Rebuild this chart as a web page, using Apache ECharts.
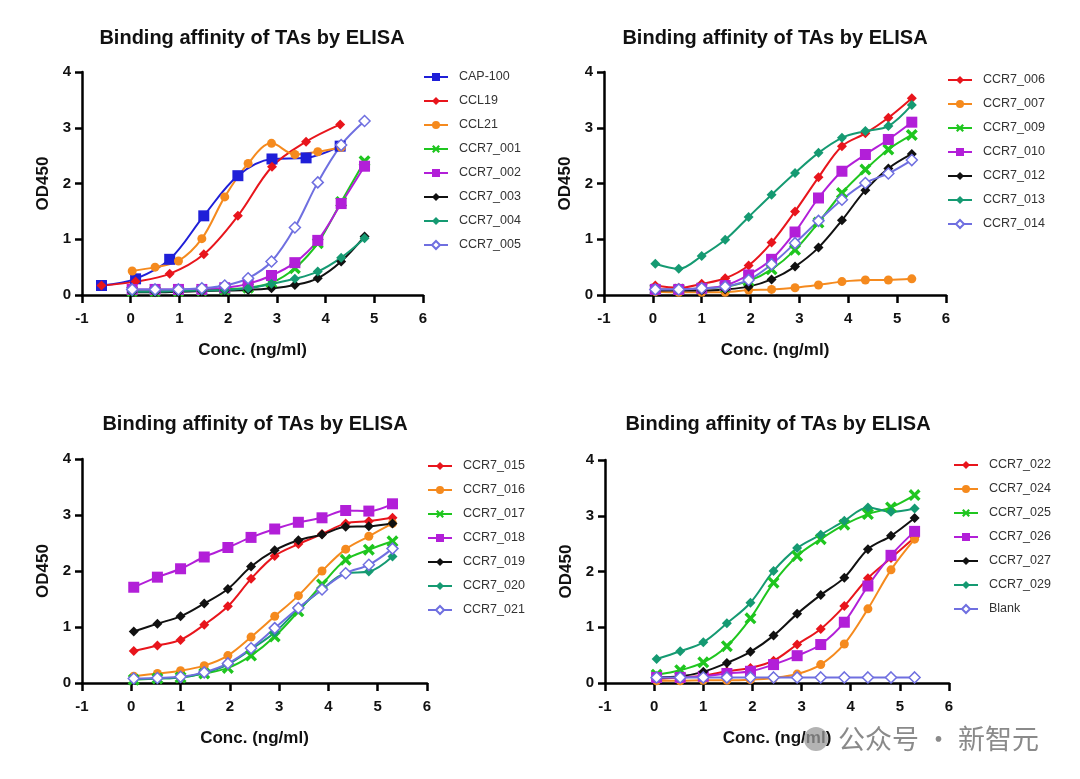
<!DOCTYPE html>
<html>
<head>
<meta charset="utf-8">
<script src="https://cdn.jsdelivr.net/npm/echarts@6/dist/echarts.min.js"></script>
<style>
  html, body { margin: 0; padding: 0; background: #fff; }
  #chart { width: 1080px; height: 779px; }
</style>
</head>
<body>
<div id="chart"></div>
<script>
// x values (log10 conc.)
var xA = [-0.6, 0.1, 0.8, 1.5, 2.2, 2.9, 3.6, 4.3]
var xB = [0.03, 0.5, 0.98, 1.46, 1.93, 2.41, 2.89, 3.37, 3.84, 4.32]
var xC = [0.03, 0.5, 0.98, 1.46, 1.93, 2.41, 2.89, 3.37, 3.84, 4.32, 4.8]
var xD = [0.05, 0.53, 1.0, 1.48, 1.96, 2.43, 2.91, 3.39, 3.87, 4.35, 4.82, 5.3]

// panel 1
var cap100 = [0.17, 0.29, 0.64, 1.42, 2.14, 2.44, 2.46, 2.67]
var ccl19 = [0.17, 0.24, 0.38, 0.73, 1.42, 2.30, 2.75, 3.06]
var ccl21 = [0.43, 0.5, 0.61, 1.01, 1.76, 2.36, 2.72, 2.52, 2.57, 2.65]
var ccr7_001 = [0.07, 0.07, 0.07, 0.08, 0.1, 0.13, 0.22, 0.48, 0.93, 1.67, 2.4]
var ccr7_002 = [0.1, 0.1, 0.1, 0.1, 0.13, 0.2, 0.35, 0.58, 0.98, 1.64, 2.31]
var ccr7_003 = [0.05, 0.05, 0.06, 0.07, 0.08, 0.09, 0.12, 0.18, 0.3, 0.6, 1.05]
var ccr7_004 = [0.06, 0.06, 0.07, 0.08, 0.09, 0.12, 0.2, 0.29, 0.42, 0.67, 1.02]
var ccr7_005 = [0.1, 0.1, 0.1, 0.12, 0.17, 0.3, 0.6, 1.21, 2.02, 2.69, 3.12]

// panel 2
var ccr7_006 = [0.17, 0.13, 0.2, 0.3, 0.53, 0.94, 1.5, 2.11, 2.67, 2.9, 3.18, 3.53]
var ccr7_007 = [0.06, 0.05, 0.05, 0.05, 0.09, 0.1, 0.13, 0.18, 0.24, 0.27, 0.27, 0.29]
var ccr7_009 = [0.1, 0.1, 0.12, 0.15, 0.25, 0.46, 0.81, 1.3, 1.83, 2.25, 2.61, 2.87]
var ccr7_010 = [0.1, 0.1, 0.12, 0.17, 0.36, 0.64, 1.13, 1.74, 2.22, 2.52, 2.79, 3.1]
var ccr7_012 = [0.08, 0.08, 0.08, 0.1, 0.15, 0.28, 0.51, 0.85, 1.34, 1.88, 2.27, 2.53]
var ccr7_013 = [0.56, 0.47, 0.7, 0.99, 1.4, 1.8, 2.19, 2.55, 2.82, 2.94, 3.03, 3.41]
var ccr7_014 = [0.1, 0.1, 0.12, 0.15, 0.27, 0.55, 0.93, 1.33, 1.71, 2.01, 2.18, 2.42]

// panel 3
var ccr7_015 = [0.57, 0.67, 0.77, 1.04, 1.37, 1.86, 2.27, 2.48, 2.66, 2.85, 2.89, 2.95]
var ccr7_016 = [0.12, 0.17, 0.22, 0.31, 0.49, 0.82, 1.19, 1.56, 2.0, 2.39, 2.62, 2.85]
var ccr7_017 = [0.06, 0.08, 0.1, 0.17, 0.27, 0.49, 0.83, 1.28, 1.76, 2.2, 2.38, 2.53]
var ccr7_018 = [1.71, 1.89, 2.04, 2.25, 2.42, 2.6, 2.75, 2.87, 2.95, 3.08, 3.07, 3.2]
var ccr7_019 = [0.92, 1.06, 1.19, 1.42, 1.68, 2.08, 2.37, 2.55, 2.65, 2.79, 2.8, 2.85]
var ccr7_020 = [0.07, 0.08, 0.1, 0.18, 0.33, 0.6, 0.9, 1.32, 1.67, 1.96, 1.99, 2.26]
var ccr7_021 = [0.08, 0.09, 0.11, 0.19, 0.35, 0.62, 0.98, 1.34, 1.67, 1.96, 2.11, 2.4]

// panel 4
var ccr7_022 = [0.07, 0.1, 0.13, 0.21, 0.27, 0.4, 0.69, 0.97, 1.38, 1.88, 2.24, 2.61]
var ccr7_024 = [0.04, 0.04, 0.05, 0.05, 0.06, 0.09, 0.16, 0.33, 0.7, 1.33, 2.03, 2.58]
var ccr7_025 = [0.15, 0.23, 0.37, 0.66, 1.16, 1.8, 2.28, 2.58, 2.84, 3.03, 3.15, 3.37]
var ccr7_026 = [0.1, 0.1, 0.12, 0.17, 0.21, 0.33, 0.49, 0.69, 1.09, 1.74, 2.29, 2.72]
var ccr7_027 = [0.1, 0.12, 0.2, 0.36, 0.56, 0.85, 1.24, 1.58, 1.89, 2.4, 2.64, 2.96]
var ccr7_029 = [0.43, 0.57, 0.73, 1.07, 1.44, 2.01, 2.42, 2.66, 2.91, 3.15, 3.07, 3.13]
var blank = [0.1, 0.1, 0.1, 0.1, 0.1, 0.1, 0.1, 0.1, 0.1, 0.1, 0.1, 0.1]

var xTicks = [-1, 0, 1, 2, 3, 4, 5, 6]
var yTicks = [0, 1, 2, 3, 4]

var C = {
  blue: '#1f1fd8',
  red: '#e8151c',
  orange: '#f58a1e',
  green: '#1fc61f',
  purple: '#b21fd8',
  black: '#111111',
  teal: '#159a72',
  lavender: '#6f6fe0'
}

var CROSS = 'path://M2,0 L5,3 L8,0 L10,2 L7,5 L10,8 L8,10 L5,7 L2,10 L0,8 L3,5 L0,2 Z'
var MARK = {
  square: { symbol: 'rect', size: 11 },
  diamond: { symbol: 'diamond', size: 10 },
  circle: { symbol: 'circle', size: 9 },
  cross: { symbol: CROSS, size: 12 },
  open: { symbol: 'diamond', size: 11, open: true }
}

var grids = [
  { left: 82, top: 72, width: 341, height: 223 },
  { left: 604, top: 72, width: 342, height: 223 },
  { left: 82, top: 459, width: 345, height: 224 },
  { left: 605, top: 460, width: 344, height: 223 }
]

var panels = [
  { title: [252, 38], legend: [418, 65], series: [
    ['CAP-100', xA, cap100, C.blue, 'square'],
    ['CCL19', xA, ccl19, C.red, 'diamond'],
    ['CCL21', xB, ccl21, C.orange, 'circle'],
    ['CCR7_001', xC, ccr7_001, C.green, 'cross'],
    ['CCR7_002', xC, ccr7_002, C.purple, 'square'],
    ['CCR7_003', xC, ccr7_003, C.black, 'diamond'],
    ['CCR7_004', xC, ccr7_004, C.teal, 'diamond'],
    ['CCR7_005', xC, ccr7_005, C.lavender, 'open']
  ] },
  { title: [775, 38], legend: [942, 68], series: [
    ['CCR7_006', xD, ccr7_006, C.red, 'diamond'],
    ['CCR7_007', xD, ccr7_007, C.orange, 'circle'],
    ['CCR7_009', xD, ccr7_009, C.green, 'cross'],
    ['CCR7_010', xD, ccr7_010, C.purple, 'square'],
    ['CCR7_012', xD, ccr7_012, C.black, 'diamond'],
    ['CCR7_013', xD, ccr7_013, C.teal, 'diamond'],
    ['CCR7_014', xD, ccr7_014, C.lavender, 'open']
  ] },
  { title: [255, 424], legend: [422, 454], series: [
    ['CCR7_015', xD, ccr7_015, C.red, 'diamond'],
    ['CCR7_016', xD, ccr7_016, C.orange, 'circle'],
    ['CCR7_017', xD, ccr7_017, C.green, 'cross'],
    ['CCR7_018', xD, ccr7_018, C.purple, 'square'],
    ['CCR7_019', xD, ccr7_019, C.black, 'diamond'],
    ['CCR7_020', xD, ccr7_020, C.teal, 'diamond'],
    ['CCR7_021', xD, ccr7_021, C.lavender, 'open']
  ] },
  { title: [778, 424], legend: [948, 453], series: [
    ['CCR7_022', xD, ccr7_022, C.red, 'diamond'],
    ['CCR7_024', xD, ccr7_024, C.orange, 'circle'],
    ['CCR7_025', xD, ccr7_025, C.green, 'cross'],
    ['CCR7_026', xD, ccr7_026, C.purple, 'square'],
    ['CCR7_027', xD, ccr7_027, C.black, 'diamond'],
    ['CCR7_029', xD, ccr7_029, C.teal, 'diamond'],
    ['Blank', xD, blank, C.lavender, 'open']
  ] }
]

var FONT = 'Liberation Sans, Arial'
var axisLabelStyle = { color: '#111', fontSize: 15, fontWeight: 'bold', fontFamily: FONT }
var axisNameStyle = { color: '#111', fontSize: 17, fontWeight: 'bold', fontFamily: FONT }

var xAxis = []
var yAxis = []
var legend = []
var series = []
var graphic = []

panels.forEach(function (p, i) {
  xAxis.push({
    type: 'value', gridIndex: i, min: xTicks[0], max: xTicks[xTicks.length - 1], interval: 1,
    name: 'Conc. (ng/ml)', nameLocation: 'middle', nameGap: 47,
    nameTextStyle: axisNameStyle,
    axisLine: { show: true, onZero: false, lineStyle: { color: '#000', width: 2.5 } },
    axisTick: { show: true, length: 8, lineStyle: { color: '#000', width: 2.5 } },
    axisLabel: Object.assign({ margin: 16 }, axisLabelStyle),
    splitLine: { show: false }
  })
  yAxis.push({
    type: 'value', gridIndex: i, min: yTicks[0], max: yTicks[yTicks.length - 1], interval: 1,
    name: 'OD450', nameLocation: 'middle', nameGap: 30,
    nameTextStyle: axisNameStyle,
    axisLine: { show: true, onZero: false, lineStyle: { color: '#000', width: 2.5 } },
    axisTick: { show: true, length: 7, lineStyle: { color: '#000', width: 2.5 } },
    axisLabel: Object.assign({ margin: 11 }, axisLabelStyle),
    splitLine: { show: false }
  })
  legend.push({
    orient: 'vertical', left: p.legend[0], top: p.legend[1],
    itemWidth: 24, itemHeight: 10, itemGap: 10,
    textStyle: { color: '#333', fontSize: 12.5, fontFamily: FONT, lineHeight: 14, padding: [0, 0, 0, 6] },
    data: p.series.map(function (s) { return s[0] })
  })
  graphic.push({
    type: 'text', x: p.title[0], y: p.title[1],
    style: {
      text: 'Binding affinity of TAs by ELISA', fill: '#111',
      font: 'bold 20px "Liberation Sans", Arial', textAlign: 'center', textVerticalAlign: 'middle'
    }
  })
  p.series.forEach(function (s) {
    var m = MARK[s[4]]
    series.push({
      name: s[0], type: 'line', xAxisIndex: i, yAxisIndex: i,
      smooth: 0.35,
      data: s[1].map(function (x, k) { return [x, s[2][k]] }),
      symbol: m.symbol, symbolSize: m.size, showAllSymbol: true,
      lineStyle: { color: s[3], width: 2 },
      itemStyle: m.open
        ? { color: '#fff', borderColor: s[3], borderWidth: 1.5 }
        : { color: s[3], borderColor: s[3], borderWidth: 0 },
      emphasis: { disabled: true },
      z: 3
    })
  })
})

// watermark
graphic.push({
  type: 'circle', shape: { cx: 816, cy: 739, r: 12 },
  style: { fill: '#9a9a9a', opacity: 0.75 }, z: 100
})
graphic.push({
  type: 'text', x: 838, y: 739,
  style: { text: '公众号 · 新智元', fill: '#8a8a8a', font: '27px "Noto Sans CJK SC"', textVerticalAlign: 'middle' }, z: 100
})

var chart = echarts.init(document.getElementById('chart'))
chart.setOption({
  animation: false,
  backgroundColor: '#fff',
  grid: grids,
  xAxis: xAxis,
  yAxis: yAxis,
  legend: legend,
  series: series,
  graphic: graphic
})
</script>
</body>
</html>
